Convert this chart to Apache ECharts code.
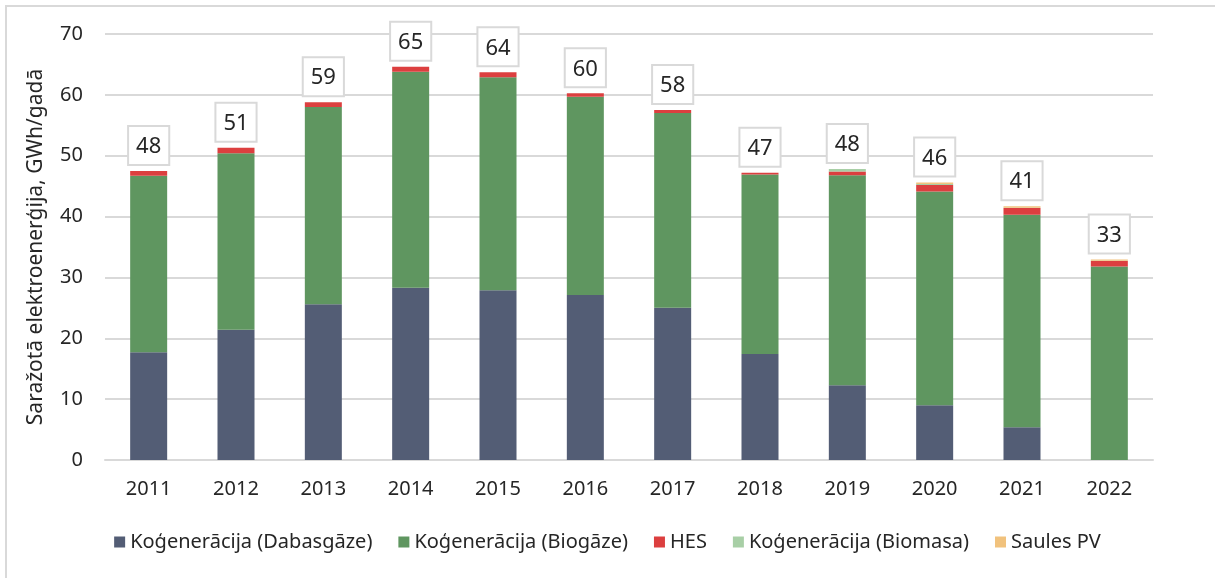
<!DOCTYPE html>
<html>
<head>
<meta charset="utf-8">
<script src="https://cdn.jsdelivr.net/npm/echarts@6/dist/echarts.min.js"></script>
<style>
    html, body { margin: 0; padding: 0; background: #fff; }
    #frame { position: absolute; left: 5px; top: 5px; width: 1220px; height: 580px; border: 2px solid #d9d9d9; box-sizing: border-box; }
    #chart { position: absolute; left: 0; top: 0; width: 1215px; height: 578px; }
</style>
</head>
<body>
<div id="frame"></div>
<div id="chart"></div>
<script>
// gadi
var years = ['2011', '2012', '2013', '2014', '2015', '2016', '2017', '2018', '2019', '2020', '2021', '2022'];
// GWh/gadā pa avotiem
var dabasgaze = [17.7, 21.4, 25.6, 28.3, 27.9, 27.1, 25.0, 17.4, 12.3, 9.0, 5.4, 0];
var biogaze = [29.0, 29.0, 32.4, 35.5, 35.0, 32.6, 32.0, 29.5, 34.5, 35.1, 34.9, 31.8];
var hes = [0.8, 0.9, 0.8, 0.8, 0.8, 0.55, 0.5, 0.3, 0.6, 1.1, 1.1, 0.9];
var biomasa = [0, 0, 0, 0, 0, 0, 0, 0, 0.4, 0.15, 0.05, 0.05];
var saules = [0, 0, 0, 0, 0, 0, 0, 0, 0, 0.25, 0.25, 0.2];
// kopā (uzraksti virs stabiem)
var totals = [48, 51, 59, 65, 64, 60, 58, 47, 48, 46, 41, 33];

var font = 'Noto Sans';
var myChart = echarts.init(document.getElementById('chart'));

function bar(name, data, color) {
    return {
        name: name,
        type: 'bar',
        stack: 'kopa',
        barWidth: 37,
        data: data,
        itemStyle: { color: color },
        emphasis: { disabled: true }
    };
}

var option = {
    animation: false,
    textStyle: { fontFamily: font },
    grid: {
        left: 105,
        right: 62,
        top: 34,
        bottom: 118
    },
    legend: {
        data: ['Koģenerācija (Dabasgāze)', 'Koģenerācija (Biogāze)', 'HES', 'Koģenerācija (Biomasa)', 'Saules PV'],
        bottom: 21,
        left: 'center',
        icon: 'rect',
        itemWidth: 11,
        itemHeight: 11,
        itemGap: 26,
        textStyle: { fontSize: 20, color: '#262626', fontFamily: font }
    },
    xAxis: {
        type: 'category',
        data: years,
        axisLine: { lineStyle: { color: '#d9d9d9', width: 2 } },
        axisTick: { show: false },
        axisLabel: { color: '#262626', fontSize: 20, margin: 19 }
    },
    yAxis: {
        type: 'value',
        min: 0,
        max: 70,
        interval: 10,
        name: 'Saražotā elektroenerģija, GWh/gadā',
        nameLocation: 'middle',
        nameGap: 58,
        nameTextStyle: { color: '#262626', fontSize: 21 },
        axisLine: { show: false },
        axisTick: { show: false },
        axisLabel: { color: '#262626', fontSize: 20, margin: 22 },
        splitLine: { lineStyle: { color: '#d9d9d9', width: 2 } }
    },
    series: [
        bar('Koģenerācija (Dabasgāze)', dabasgaze, '#535d75'),
        bar('Koģenerācija (Biogāze)', biogaze, '#5f9660'),
        bar('HES', hes, '#dc3f3f'),
        bar('Koģenerācija (Biomasa)', biomasa, '#a8cfa6'),
        bar('Saules PV', saules, '#f1c27d'),
        {
            name: 'Kopā',
            type: 'bar',
            stack: 'kopa',
            barWidth: 37,
            data: totals.map(function () { return 0; }),
            itemStyle: { color: 'transparent' },
            silent: true,
            label: {
                show: true,
                position: 'top',
                distance: 7,
                formatter: function (p) { return totals[p.dataIndex]; },
                color: '#262626',
                fontSize: 22,
                backgroundColor: '#fff',
                borderColor: '#d9d9d9',
                borderWidth: 2,
                padding: [9, 7, 6, 7]
            }
        }
    ]
};
option && myChart.setOption(option);
</script>
</body>
</html>
